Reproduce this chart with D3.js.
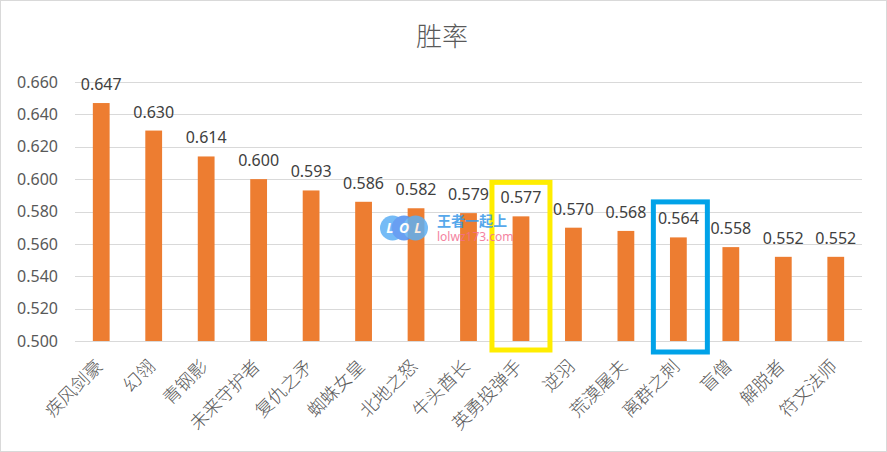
<!DOCTYPE html>
<html>
<head>
<meta charset="utf-8">
<script src="https://cdn.jsdelivr.net/npm/d3@7"></script>
<style>
  body { margin: 0; background: #fff; }
  svg { display: block; font-family: "Noto Sans CJK SC", "Microsoft YaHei", sans-serif; }
</style>
</head>
<body>
<div id="chart"></div>
<script>
const heroes = ['疾风剑豪','幻翎','青钢影','未来守护者','复仇之矛','蜘蛛女皇','北地之怒','牛头酋长','英勇投弹手','逆羽','荒漠屠夫','离群之刺','盲僧','解脱者','符文法师'];
const winRates = [0.647, 0.630, 0.614, 0.600, 0.593, 0.586, 0.582, 0.579, 0.577, 0.570, 0.568, 0.564, 0.558, 0.552, 0.552];
const yTicks = [0.50, 0.52, 0.54, 0.56, 0.58, 0.60, 0.62, 0.64, 0.66];
const highlightNames = ['英勇投弹手', '离群之刺'];
const highlightColors = ['#ffed00', '#00a2e8'];

const width = 887, height = 452;
const margin = {top: 82, right: 25, bottom: 111, left: 75};
const numFont = '"Noto Sans", "DejaVu Sans", sans-serif';

const svg = d3.select('#chart').append('svg').attr('width', width).attr('height', height);
svg.append('rect').attr('x',0.5).attr('y',0.5).attr('width',width-1).attr('height',height-1)
    .attr('fill','#fff').attr('stroke','#d9d9d9');

const x = d3.scaleBand().domain(heroes).range([margin.left, width - margin.right]).paddingInner(0.68).paddingOuter(0.34);
const y = d3.scaleLinear().domain([0.5, 0.66]).range([height - margin.bottom, margin.top]);

// title
svg.append('text').attr('x', 442).attr('y', 46).attr('text-anchor','middle')
    .attr('font-size', 26).attr('font-weight', 300).attr('fill','#595959').text('胜率');

// gridlines
svg.append('g').selectAll('line').data(yTicks).join('line')
    .attr('x1', margin.left).attr('x2', width - margin.right)
    .attr('y1', d => Math.round(y(d)) + 0.5).attr('y2', d => Math.round(y(d)) + 0.5)
    .attr('stroke','#d9d9d9').attr('stroke-width',1);

// y axis labels
const yAxis = d3.axisLeft(y).tickValues(yTicks).tickFormat(d3.format('.3f')).tickSize(0).tickPadding(17);
const gy = svg.append('g').attr('transform', `translate(${margin.left},0)`).call(yAxis);
gy.select('.domain').remove();
gy.selectAll('text').attr('font-size', 16).attr('fill','#595959').attr('font-family', numFont);

// bars
svg.append('g').selectAll('rect').data(heroes).join('rect')
    .attr('x', d => x(d)).attr('width', x.bandwidth())
    .attr('y', (d,i) => y(winRates[i])).attr('height', (d,i) => y(0.5) - y(winRates[i]))
    .attr('fill','#ed7d31');

// value labels
svg.append('g').selectAll('text').data(heroes).join('text')
    .attr('x', d => x(d) + x.bandwidth()/2).attr('y', (d,i) => y(winRates[i]) - 13)
    .attr('text-anchor','middle').attr('font-size', 16).attr('fill','#404040')
    .attr('font-family', numFont)
    .text((d,i) => d3.format('.3f')(winRates[i]));

// x labels rotated
svg.append('g').selectAll('text').data(heroes).join('text')
    .attr('transform', d => `translate(${x(d) + x.bandwidth()/2 - 1},${y(0.5) + 23}) rotate(-45)`)
    .attr('text-anchor','end').attr('dominant-baseline','middle')
    .attr('font-size', 18).attr('font-weight', 300).attr('fill','#595959').text(d => d);

// highlight boxes (top offset above bar, width, x shift)
const boxStyle = [{w: 58, top: 34, dx: 0}, {w: 54, top: 35.5, dx: 2}];
svg.append('g').selectAll('rect').data(highlightNames).join('rect')
    .attr('x', (d,i) => x(d) + x.bandwidth()/2 - boxStyle[i].w/2 + boxStyle[i].dx)
    .attr('y', (d,i) => y(winRates[heroes.indexOf(d)]) - boxStyle[i].top)
    .attr('width', (d,i) => boxStyle[i].w)
    .attr('height', (d,i) => y(0.5) + 9 + i*2 - (y(winRates[heroes.indexOf(d)]) - boxStyle[i].top))
    .attr('fill','none').attr('stroke', (d,i) => highlightColors[i]).attr('stroke-width', 5);

// watermark
const wm = svg.append('g').attr('opacity', 0.85);
[['L',392.5,'#5db0f5'],['O',404,'#4f8ff0'],['L',415.5,'#5db0f5']].forEach(([c,cx,col]) => {
  wm.append('circle').attr('cx', cx).attr('cy', 228).attr('r', 12.5).attr('fill', col);
});
[['L',390],['O',404],['L',418]].forEach(([c,cx]) => {
  wm.append('text').attr('x', cx).attr('y', 233).attr('text-anchor','middle')
    .attr('font-size', 14).attr('font-weight','bold').attr('font-style','italic')
    .attr('fill','#fff').attr('font-family', numFont).text(c);
});
wm.append('text').attr('x', 437).attr('y', 226).attr('font-size', 14).attr('font-weight','bold')
  .attr('fill','#3a9ae8').text('王者一起上');
wm.append('text').attr('x', 437).attr('y', 241).attr('font-size', 12)
  .attr('fill','#f36d8f').attr('font-family', numFont).text('lolwz173.com');
</script>
</body>
</html>
